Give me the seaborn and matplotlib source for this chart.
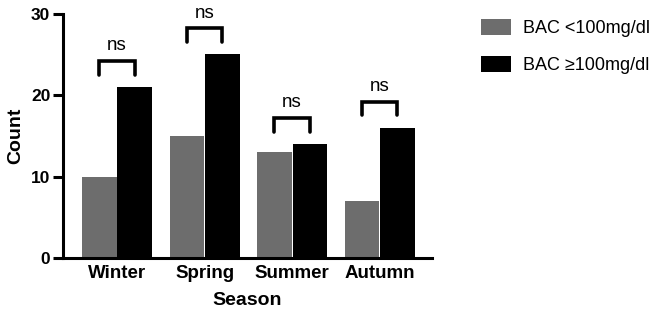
import matplotlib
matplotlib.use("Agg")
import matplotlib.pyplot as plt
import seaborn as sns
import pandas as pd
from matplotlib.patches import Patch

seasons = ["Winter", "Spring", "Summer", "Autumn"]
low_bac = [10, 15, 13, 7]
high_bac = [21, 25, 14, 16]
groups = ["BAC <100mg/dl", "BAC \u2265100mg/dl"]
sig_labels = ["ns", "ns", "ns", "ns"]

df = pd.DataFrame({
    "Season": seasons * 2,
    "Count": low_bac + high_bac,
    "Group": [groups[0]] * 4 + [groups[1]] * 4,
})

sns.set_style("ticks", rc={"text.color": "black", "axes.labelcolor": "black",
                           "xtick.color": "black", "ytick.color": "black",
                           "axes.edgecolor": "black"})
plt.rcParams['font.family'] = ['Liberation Sans', 'DejaVu Sans']

colors = ["#6d6d6d", "#000000"]
fig = plt.figure(figsize=(6.69, 3.14), dpi=100)
ax = fig.add_axes([0.094, 0.178, 0.552, 0.779])

sns.barplot(data=df, x="Season", y="Count", hue="Group", palette=colors,
            width=0.81, gap=0.02, linewidth=0, ax=ax, legend=False)

ax.set_ylim(0, 30)
ax.set_xlim(-0.62, 3.6)
ax.set_yticks([0, 10, 20, 30])
for side in ["top", "right"]:
    ax.spines[side].set_visible(False)
for side in ["left", "bottom"]:
    ax.spines[side].set_linewidth(2.2)
ax.tick_params(axis="y", width=2.2, length=7, labelsize=12.5, pad=2)
ax.tick_params(axis="x", length=0, labelsize=13.5, pad=5)
for lbl in ax.get_xticklabels() + ax.get_yticklabels():
    lbl.set_fontweight("bold")
ax.set_xlabel("Season", fontsize=14, fontweight="bold", labelpad=7)
ax.set_ylabel("Count", fontsize=14, fontweight="bold", labelpad=5)

# significance brackets
off = 0.81 / 4
for i, (lo, hi, s) in enumerate(zip(low_bac, high_bac, sig_labels)):
    top = max(lo, hi) + 3.2
    leg = top - 1.7
    ax.plot([i - off, i - off, i + off, i + off], [leg, top, top, leg],
            color="black", lw=2.6, solid_capstyle="round",
            solid_joinstyle="miter", clip_on=False)
    ax.text(i, top + 0.8, s, ha="center", va="bottom", fontsize=13.5,
            clip_on=False)

handles = [Patch(facecolor=c, edgecolor="none") for c in colors]
fig.legend(handles, groups, loc="upper left", bbox_to_anchor=(0.70, 0.98),
           frameon=False, fontsize=13, handlelength=1.65, handleheight=1.0,
           labelspacing=1.05, handletextpad=0.7, borderpad=0.2)

fig.savefig("out.png", dpi=100)
